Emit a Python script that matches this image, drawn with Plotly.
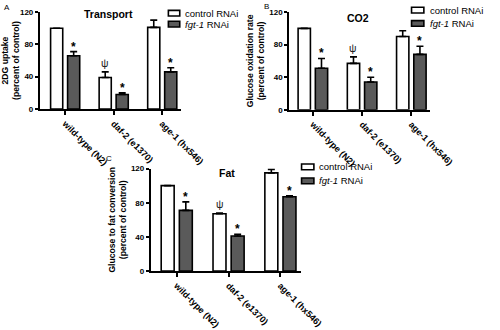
import plotly.graph_objects as go

categories = ["wild-type (N2)", "daf-2 (e1370)", "age-1 (hx546)"]
series_names = ["control RNAi", "<i>fgt-1</i> RNAi"]

# Panel A - Transport (2DG uptake)
ctrl_A = [100, 39, 101]
ctrl_A_err = [0, 7, 9]
fgt_A = [66, 18, 46]
fgt_A_err = [5, 2, 5]

# Panel B - CO2 (glucose oxidation)
ctrl_B = [100, 57, 90]
ctrl_B_err = [0, 8, 7]
fgt_B = [51, 34, 68]
fgt_B_err = [12, 6, 10]

# Panel C - Fat (glucose to fat conversion)
ctrl_C = [100, 67, 115]
ctrl_C_err = [0, 1, 4]
fgt_C = [71, 41, 87]
fgt_C_err = [10, 2, 1]

y_ticks = [0, 40, 80, 120]

W, H = 500, 330
FONT = "Arial, Liberation Sans, sans-serif"
DARK = "#5a5a5a"

def px(x):
    return x / W

def py(y):
    return 1 - y / H

fig = go.Figure()

panels = [
    dict(key="", ctrl=ctrl_A, ctrl_err=ctrl_A_err, fgt=fgt_A, fgt_err=fgt_A_err,
         title="Transport", ytitle="2DG uptake<br>(percent of control)",
         xdom=(40, 189), ydom=(110.7, 8.5), xr=(-0.52, 2.39),
         title_pos=(112, 11), letter="A", letter_pos=(5, 4),
         leg=dict(bx=(175.5, 187.5), rows=(9.7, 21.2), tx=190.5)),
    dict(key="2", ctrl=ctrl_B, ctrl_err=ctrl_B_err, fgt=fgt_B, fgt_err=fgt_B_err,
         title="CO2", ytitle="Glucose oxidation rate<br>(percent of control)",
         xdom=(303, 451), ydom=(111.5, 8.5), xr=(-0.48, 2.37),
         title_pos=(376, 15), letter="B", letter_pos=(279, 3),
         leg=dict(bx=(432, 445), rows=(6.5, 20.5), tx=449)),
    dict(key="3", ctrl=ctrl_C, ctrl_err=ctrl_C_err, fgt=fgt_C, fgt_err=fgt_C_err,
         title="Fat", ytitle="Glucose to fat conversion<br>(percent of control)",
         xdom=(157, 315), ydom=(281.5, 173.5), xr=(-0.5, 2.39),
         title_pos=(237, 178), letter="C", letter_pos=(113, 163),
         leg=dict(bx=(316, 329), rows=(171.7, 186.5), tx=332.5)),
]

SHIFT = 0.175
BW = 0.25
annotations = []
shapes = []

for p in panels:
    k = p["key"]
    xa = "x" + k
    ya = "y" + k
    idx = list(range(len(categories)))
    for vals, errs, fill, sgn in [(p["ctrl"], p["ctrl_err"], "white", -1),
                                  (p["fgt"], p["fgt_err"], DARK, 1)]:
        fig.add_trace(go.Bar(
            x=[i + sgn * SHIFT for i in idx], y=vals, width=BW,
            marker=dict(color=fill, line=dict(color="black", width=1.6)),
            error_y=dict(type="data", array=errs, arrayminus=[0] * len(errs),
                         symmetric=False, color="black", thickness=1.6, width=3.5),
            xaxis=xa, yaxis=ya, showlegend=False, hoverinfo="skip"))
        # significance markers
        for i in idx:
            top = vals[i] + errs[i]
            if sgn == 1:
                annotations.append(dict(x=i + SHIFT, y=top, xref=xa, yref=ya, text="<b>*</b>",
                                        showarrow=False, yanchor="bottom", yshift=-4,
                                        font=dict(family=FONT, size=12, color="black")))
            elif i == 1:
                annotations.append(dict(x=i - SHIFT, y=top, xref=xa, yref=ya, text="ψ",
                                        showarrow=False, yanchor="bottom", yshift=1,
                                        font=dict(family=FONT, size=10.5, color="#222")))

    axis_common = dict(showline=True, linecolor="black", linewidth=2, ticks="outside",
                       tickcolor="black", tickwidth=1.5, ticklen=4, showgrid=False,
                       zeroline=False)
    fig.update_layout(**{
        ("xaxis" + k): dict(axis_common, domain=[px(p["xdom"][0]), px(p["xdom"][1])],
                            range=list(p["xr"]), tickmode="array", tickvals=idx,
                            ticktext=categories, tickangle=45, anchor=ya,
                            tickfont=dict(family=FONT, size=9, color="black",
                                          weight="bold")),
        ("yaxis" + k): dict(axis_common, domain=[py(p["ydom"][0]), py(p["ydom"][1])],
                            range=[0, 120], tickmode="array", tickvals=y_ticks,
                            anchor=xa, ticklen=3,
                            tickfont=dict(family=FONT, size=8, color="black",
                                          weight="bold"),
                            title=dict(text="<b>" + p["ytitle"] + "</b>", standoff=3,
                                       font=dict(family=FONT, size=8.6, color="black"))),
    })

    annotations.append(dict(x=px(p["title_pos"][0]), y=py(p["title_pos"][1]), xref="paper",
                            yref="paper", text="<b>" + p["title"] + "</b>", showarrow=False,
                            xanchor="center", yanchor="middle",
                            font=dict(family=FONT, size=10.5, color="black")))
    annotations.append(dict(x=px(p["letter_pos"][0]), y=py(p["letter_pos"][1]), xref="paper",
                            yref="paper", text=p["letter"], showarrow=False,
                            xanchor="center", yanchor="middle",
                            font=dict(family=FONT, size=8, color="black")))
    lg = p["leg"]
    for name, fill, yc in zip(series_names, ["white", DARK], lg["rows"]):
        shapes.append(dict(type="rect", xref="paper", yref="paper",
                           x0=px(lg["bx"][0]), x1=px(lg["bx"][1]),
                           y0=py(yc + 3), y1=py(yc - 3), fillcolor=fill,
                           line=dict(color="black", width=1.6)))
        annotations.append(dict(x=px(lg["tx"]), y=py(yc), xref="paper", yref="paper",
                                text=name, showarrow=False, xanchor="left",
                                yanchor="middle",
                                font=dict(family=FONT, size=9.5, color="black")))

fig.update_layout(width=W, height=H, autosize=False,
                  margin=dict(l=0, r=0, t=0, b=0),
                  paper_bgcolor="white", plot_bgcolor="white",
                  barmode="overlay", showlegend=False,
                  annotations=annotations, shapes=shapes,
                  font=dict(family=FONT, color="black"))

fig.write_html("out.html")
